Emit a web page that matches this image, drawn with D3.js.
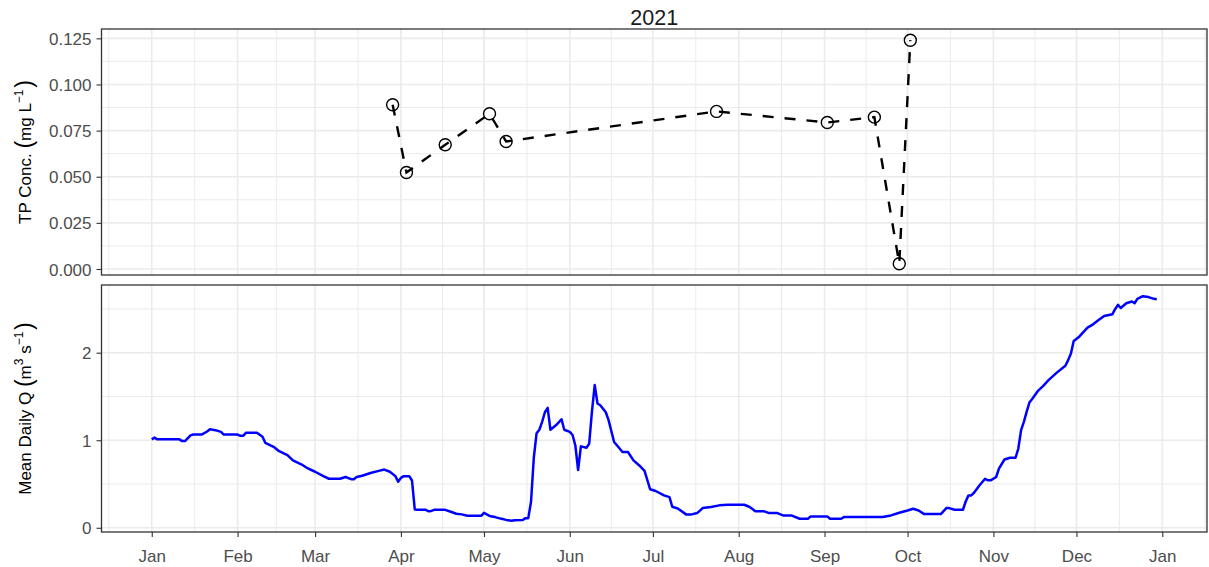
<!DOCTYPE html>
<html>
<head>
<meta charset="utf-8">
<script src="https://cdn.jsdelivr.net/npm/d3@7"></script>
<style>
  body { margin: 0; background: #fff; }
  text { font-family: "Liberation Sans", Arial, sans-serif; }
</style>
</head>
<body>
<div id="chart"></div>
<script>
// ---- data (day of year, 0 = 1 Jan 2021) ----
let year = 2021;

// TP grab samples, mg/L
let tpDays = [87, 92, 106, 122, 128, 204, 244, 261, 270, 274];
let tpConc = [0.089, 0.0523, 0.0673, 0.0841, 0.0691, 0.0854, 0.0794, 0.0823, 0.0028, 0.124];

// mean daily discharge, m3/s
let qDays = [0, 1, 2, 10, 11, 12, 14, 15, 18, 20, 21, 23, 25, 26, 31, 32, 33, 34, 38, 40,
  41, 44, 46, 49, 51, 54, 56, 59, 62, 64, 68, 70, 72, 73, 74, 76, 79, 82, 84, 86,
  88, 89, 90, 91, 93, 94, 95, 96, 99, 100, 101, 102, 106, 108, 110, 112, 114, 119, 120, 122,
  124, 126, 128, 130, 131, 134, 135, 136, 137, 138, 139, 140, 141, 142, 143, 144, 146, 148, 149, 151,
  152, 153, 154, 155, 157, 158, 159, 160, 161, 162, 164, 165, 167, 169, 170, 172, 174, 176, 178, 180,
  182, 185, 187, 188, 190, 193, 195, 197, 199, 202, 205, 208, 214, 216, 218, 221, 223, 226, 228, 231,
  234, 237, 238, 244, 245, 249, 250, 264, 267, 270, 273, 275, 277, 279, 285, 287, 288, 290, 293, 294,
  295, 296, 297, 299, 301, 302, 303, 305, 306, 308, 310, 312, 313, 314, 315, 316, 317, 318, 320, 322,
  324, 327, 330, 331, 332, 333, 335, 338, 340, 342, 344, 347, 348, 349, 350, 352, 354, 355, 356, 358,
  360, 362, 363];
let qFlow = [1.01, 1.03, 1.01, 1.01, 0.99, 0.99, 1.055, 1.065, 1.065, 1.10, 1.125, 1.115, 1.095, 1.065, 1.065, 1.05, 1.05, 1.085, 1.085, 1.04,
  0.97, 0.925, 0.875, 0.83, 0.77, 0.725, 0.685, 0.64, 0.59, 0.56, 0.56, 0.58, 0.555, 0.555, 0.58, 0.595, 0.625, 0.65, 0.665, 0.64,
  0.59, 0.525, 0.57, 0.59, 0.59, 0.54, 0.21, 0.205, 0.205, 0.188, 0.192, 0.205, 0.205, 0.183, 0.16, 0.153, 0.137, 0.137, 0.17, 0.135,
  0.122, 0.105, 0.09, 0.08, 0.085, 0.088, 0.11, 0.11, 0.30, 0.80, 1.08, 1.12, 1.21, 1.32, 1.37, 1.12, 1.17, 1.24, 1.12, 1.095,
  1.06, 0.94, 0.66, 0.93, 0.915, 0.96, 1.33, 1.63, 1.42, 1.40, 1.32, 1.23, 0.98, 0.905, 0.866, 0.866, 0.77, 0.715, 0.65, 0.44,
  0.42, 0.37, 0.35, 0.24, 0.22, 0.153, 0.153, 0.168, 0.225, 0.237, 0.256, 0.263, 0.263, 0.237, 0.19, 0.19, 0.168, 0.168, 0.141, 0.141,
  0.103, 0.103, 0.13, 0.13, 0.103, 0.103, 0.122, 0.122, 0.141, 0.172, 0.198, 0.218, 0.198, 0.156, 0.156, 0.225, 0.225, 0.206, 0.206, 0.30,
  0.37, 0.37, 0.40, 0.485, 0.56, 0.542, 0.542, 0.58, 0.676, 0.78, 0.80, 0.80, 0.905, 1.115, 1.21, 1.324, 1.43, 1.47, 1.56, 1.62,
  1.69, 1.775, 1.85, 1.915, 1.99, 2.134, 2.183, 2.286, 2.324, 2.374, 2.42, 2.44, 2.50, 2.546, 2.51, 2.565, 2.585, 2.565, 2.615, 2.645,
  2.635, 2.615, 2.61];

// axis breaks
let tpTicks = [0, 0.025, 0.05, 0.075, 0.1, 0.125];
let qTicks = [0, 1, 2];
let monthLabels = ["Jan", "Feb", "Mar", "Apr", "May", "Jun", "Jul", "Aug", "Sep", "Oct", "Nov", "Dec", "Jan"];

// ---- layout ----
let width = 1209, height = 567;
let left = 101.5, right = 1207;
let top1 = 29, bottom1 = 275;   // TP panel
let top2 = 285, bottom2 = 532;  // Q panel
let gridColor = "#EBEBEB", frameColor = "#333333", tickText = "#4D4D4D";

let start = new Date(year, 0, 1);
let toDate = d => d3.timeDay.offset(start, d);

let tpData = tpDays.map((d, i) => ({date: toDate(d), value: tpConc[i]}));
let qData = qDays.map((d, i) => ({date: toDate(d), value: qFlow[i]}));

// ggplot style 5% expansion
function expand(ext) {
  let r = ext[1] - ext[0];
  return [ext[0] - r * 0.05, ext[1] + r * 0.05];
}

let tExt = expand(d3.extent(qData.concat(tpData), d => +d.date));
let x = d3.scaleTime()
  .domain([new Date(tExt[0]), new Date(tExt[1])])
  .range([left, right]);

let yTP = d3.scaleLinear()
  .domain(expand(d3.extent(tpData, d => d.value)))
  .range([bottom1, top1]);
let yQ = d3.scaleLinear()
  .domain(expand(d3.extent(qData, d => d.value)))
  .range([bottom2, top2]);

// monthly breaks and the mid-month minor breaks
let monthBreaks = monthLabels.map((m, i) => new Date(year, i, 1));
let monthAll = d3.range(-1, 14).map(i => new Date(year, i, 1));
let xMinor = d3.pairs(monthAll).map(p => new Date((+p[0] + +p[1]) / 2))
  .filter(d => x(d) > left && x(d) < right);

function midpoints(ticks) {
  let step = ticks[1] - ticks[0];
  return ticks.concat([ticks[ticks.length - 1] + step]).map(t => t - step / 2);
}

let svg = d3.select("#chart").append("svg")
  .attr("width", width)
  .attr("height", height);

function panel(y, top, bottom, yTicks, fmt) {
  let g = svg.append("g");
  let yMinor = midpoints(yTicks).filter(v => y(v) > top && y(v) < bottom);

  // minor grid
  g.selectAll(".vminor").data(xMinor).join("line")
    .attr("x1", d => x(d)).attr("x2", d => x(d))
    .attr("y1", top).attr("y2", bottom)
    .attr("stroke", gridColor).attr("stroke-width", 1);
  g.selectAll(".hminor").data(yMinor).join("line")
    .attr("x1", left).attr("x2", right)
    .attr("y1", d => y(d)).attr("y2", d => y(d))
    .attr("stroke", gridColor).attr("stroke-width", 1);
  // major grid
  g.selectAll(".vmajor").data(monthBreaks).join("line")
    .attr("x1", d => x(d)).attr("x2", d => x(d))
    .attr("y1", top).attr("y2", bottom)
    .attr("stroke", gridColor).attr("stroke-width", 1.6);
  g.selectAll(".hmajor").data(yTicks).join("line")
    .attr("x1", left).attr("x2", right)
    .attr("y1", d => y(d)).attr("y2", d => y(d))
    .attr("stroke", gridColor).attr("stroke-width", 1.6);

  // y axis
  let ax = svg.append("g")
    .attr("transform", "translate(" + left + ",0)")
    .call(d3.axisLeft(y).tickValues(yTicks).tickFormat(fmt).tickSize(5).tickPadding(5));
  ax.select(".domain").remove();
  ax.selectAll("line").attr("stroke", frameColor).attr("stroke-width", 1.1);
  ax.selectAll("text")
    .attr("fill", tickText)
    .style("font-size", "17px")
    .style("font-family", '"Liberation Sans", Arial, sans-serif')
    .attr("dy", "0.36em");
  return g;
}

let g1 = panel(yTP, top1, bottom1, tpTicks, d3.format(".3f"));
let g2 = panel(yQ, top2, bottom2, qTicks, d3.format("d"));

// TP points + dashed line
g1.selectAll("circle").data(tpData).join("circle")
  .attr("cx", d => x(d.date))
  .attr("cy", d => yTP(d.value))
  .attr("r", 6)
  .attr("fill", "none")
  .attr("stroke", "#000")
  .attr("stroke-width", 1.4);

g1.append("path")
  .datum(tpData)
  .attr("fill", "none")
  .attr("stroke", "#000")
  .attr("stroke-width", 2.4)
  .attr("stroke-dasharray", "11,11")
  .attr("d", d3.line().x(d => x(d.date)).y(d => yTP(d.value)));

// discharge line
g2.append("path")
  .datum(qData)
  .attr("fill", "none")
  .attr("stroke", "#0000FF")
  .attr("stroke-width", 2.5)
  .attr("stroke-linejoin", "round")
  .attr("d", d3.line().x(d => x(d.date)).y(d => yQ(d.value)));

// panel frames
[[top1, bottom1], [top2, bottom2]].forEach(p => {
  svg.append("rect")
    .attr("x", left).attr("y", p[0])
    .attr("width", right - left).attr("height", p[1] - p[0])
    .attr("fill", "none")
    .attr("stroke", frameColor)
    .attr("stroke-width", 1.3);
});

// x axis on the bottom panel only
let xa = svg.append("g")
  .attr("transform", "translate(0," + bottom2 + ")")
  .call(d3.axisBottom(x).tickValues(monthBreaks).tickFormat((d, i) => monthLabels[i]).tickSize(5).tickPadding(13));
xa.select(".domain").remove();
xa.selectAll("line").attr("stroke", frameColor).attr("stroke-width", 1.1);
xa.selectAll("text")
  .attr("fill", tickText)
  .style("font-size", "17px")
  .style("font-family", '"Liberation Sans", Arial, sans-serif');

// title
svg.append("text")
  .attr("x", (left + right) / 2)
  .attr("y", 25)
  .attr("text-anchor", "middle")
  .style("font-size", "21.5px")
  .attr("fill", "#1a1a1a")
  .text(year);

// y axis titles with superscripts
function yTitle(cy, parts) {
  let t = svg.append("text")
    .attr("transform", "translate(31," + cy + ") rotate(-90)")
    .attr("text-anchor", "middle")
    .attr("fill", "#000")
    .style("font-size", "17px");
  let shift = 0;
  parts.forEach(p => {
    let dy = (p.dy || 0) - shift;
    shift = p.dy || 0;
    t.append("tspan")
      .attr("dy", dy)
      .style("font-size", p.size || "17px")
      .text(p.s);
  });
}

yTitle((top1 + bottom1) / 2, [
  {s: "TP Conc. "},
  {s: "(", size: "23px", dy: 1},
  {s: "mg L"},
  {s: "\u22121", size: "12px", dy: -8},
  {s: " ", size: "6px"},
  {s: ")", size: "23px", dy: 1}
]);

yTitle((top2 + bottom2) / 2, [
  {s: "Mean Daily Q "},
  {s: "(", size: "23px", dy: 1},
  {s: "m"},
  {s: "3", size: "12px", dy: -8},
  {s: " s"},
  {s: "\u22121", size: "12px", dy: -8},
  {s: " ", size: "6px"},
  {s: ")", size: "23px", dy: 1}
]);
</script>
</body>
</html>
